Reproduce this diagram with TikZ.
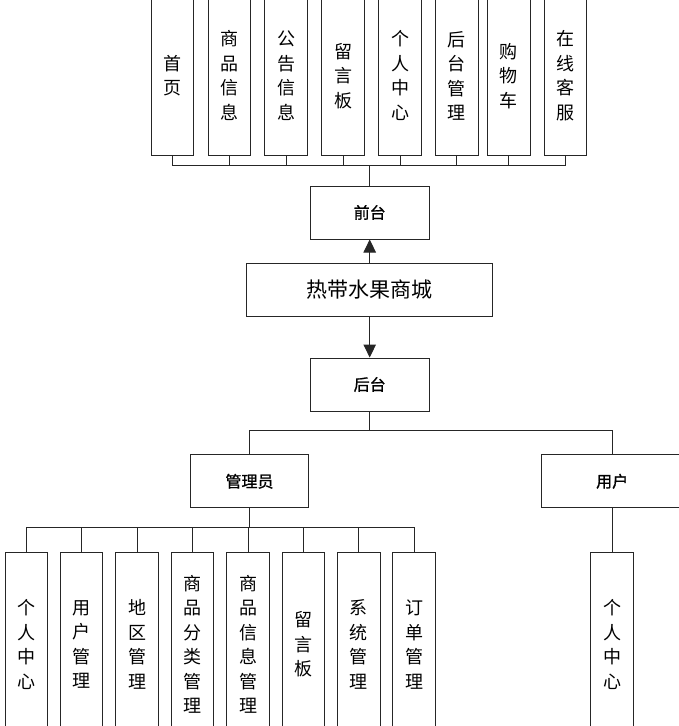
\documentclass[tikz,border=0pt]{standalone}
\usepackage{fontspec}
\newfontfamily\cjk{Noto Sans CJK SC}
\newfontfamily\cjkrole{Noto Sans CJK SC}[FakeBold=1.2]
\usetikzlibrary{positioning, arrows.meta}
\tikzset{box/.style = {draw=black!85, line width=1pt, fill=white, inner sep=0pt, align=center},
         module/.style = {box, minimum width=42.5, font=\cjk\fontsize{18}{24.5}\selectfont},
         role/.style = {box, minimum height=53, font=\cjkrole\fontsize{16}{18}\selectfont},
         link/.style = {draw=black!85, line width=1pt}}

\begin{document}
\begin{tikzpicture}[x=1pt, y=-1pt]
            \useasboundingbox (0,0) rectangle (678,726);

            % front end modules
            \node[module, minimum height=160] (f1) at (172.5,75.7) {首\\页};
            \node[module, minimum height=160] (f2) at (229.5,75.7) {商\\品\\信\\息};
            \node[module, minimum height=160] (f3) at (286.2,75.7) {公\\告\\信\\息};
            \node[module, minimum height=160] (f4) at (343.2,75.7) {留\\言\\板};
            \node[module, minimum height=160] (f5) at (400.2,75.7) {个\\人\\中\\心};
            \node[module, minimum height=160] (f6) at (456.8,75.7) {后\\台\\管\\理};
            \node[module, minimum height=160] (f7) at (508.8,75.7) {购\\物\\车};
            \node[module, minimum height=160] (f8) at (565.5,75.7) {在\\线\\客\\服};

            \node[role, minimum width=119] (qt) at (369.7,212.5) {前台};
            \node[box, minimum width=246, minimum height=53.4,
                  font=\cjk\fontsize{21}{24}\selectfont] (rc) at (369.7,290) {热带水果商城};
            \node[role, minimum width=119] (ht) at (369.7,384.5) {后台};

            \node[role, minimum width=118.5] (gl) at (249.5,481.3) {管理员};
            \node[role, minimum width=142] (yh) at (612.2,481.3) {用户};

            % back end modules
            \node[module, minimum height=184] (a1) at (26.4,644.3) {个\\人\\中\\心};
            \node[module, minimum height=184] (a2) at (81.7,644.3) {用\\户\\管\\理};
            \node[module, minimum height=184] (a3) at (137,644.3) {地\\区\\管\\理};
            \node[module, minimum height=184] (a4) at (192.4,644.3) {商\\品\\分\\类\\管\\理};
            \node[module, minimum height=184] (a5) at (248.2,644.3) {商\\品\\信\\息\\管\\理};
            \node[module, minimum height=184] (a6) at (303.5,644.3) {留\\言\\板};
            \node[module, minimum height=184] (a7) at (358.8,644.3) {系\\统\\管\\理};
            \node[module, minimum height=184] (a8) at (414.2,644.3) {订\\单\\管\\理};
            \node[module, minimum height=184] (u1) at (612.2,644.3) {个\\人\\中\\心};

            \coordinate (fbus) at (369.7,165.7);
            \coordinate (hbus) at (369.7,430.7);
            \coordinate (gbus) at (249.5,527.7);

            \draw[link] (f1.south) |- (fbus);
            \draw[link] (f2.south) |- (fbus);
            \draw[link] (f3.south) |- (fbus);
            \draw[link] (f4.south) |- (fbus);
            \draw[link] (f5.south) |- (fbus);
            \draw[link] (f6.south) |- (fbus);
            \draw[link] (f7.south) |- (fbus);
            \draw[link] (f8.south) |- (fbus);
            \draw[link] (fbus) -- (qt.north);

            \draw[link, -{Triangle[length=13pt, width=12.5pt]}] (rc.north) -- (qt.south);
            \draw[link, -{Triangle[length=13pt, width=12.5pt]}] (rc.south) -- (ht.north);

            \draw[link] (ht.south) -- (hbus);
            \draw[link] (hbus) -| (gl.north);
            \draw[link] (hbus) -| (yh.north);

            \draw[link] (gl.south) -- (gbus);
            \draw[link] (gbus) -| (a1.north);
            \draw[link] (gbus) -| (a2.north);
            \draw[link] (gbus) -| (a3.north);
            \draw[link] (gbus) -| (a4.north);
            \draw[link] (gbus) -| (a5.north);
            \draw[link] (gbus) -| (a6.north);
            \draw[link] (gbus) -| (a7.north);
            \draw[link] (gbus) -| (a8.north);
            \draw[link] (yh.south) -- (u1.north);
        \end{tikzpicture}
\end{document}
